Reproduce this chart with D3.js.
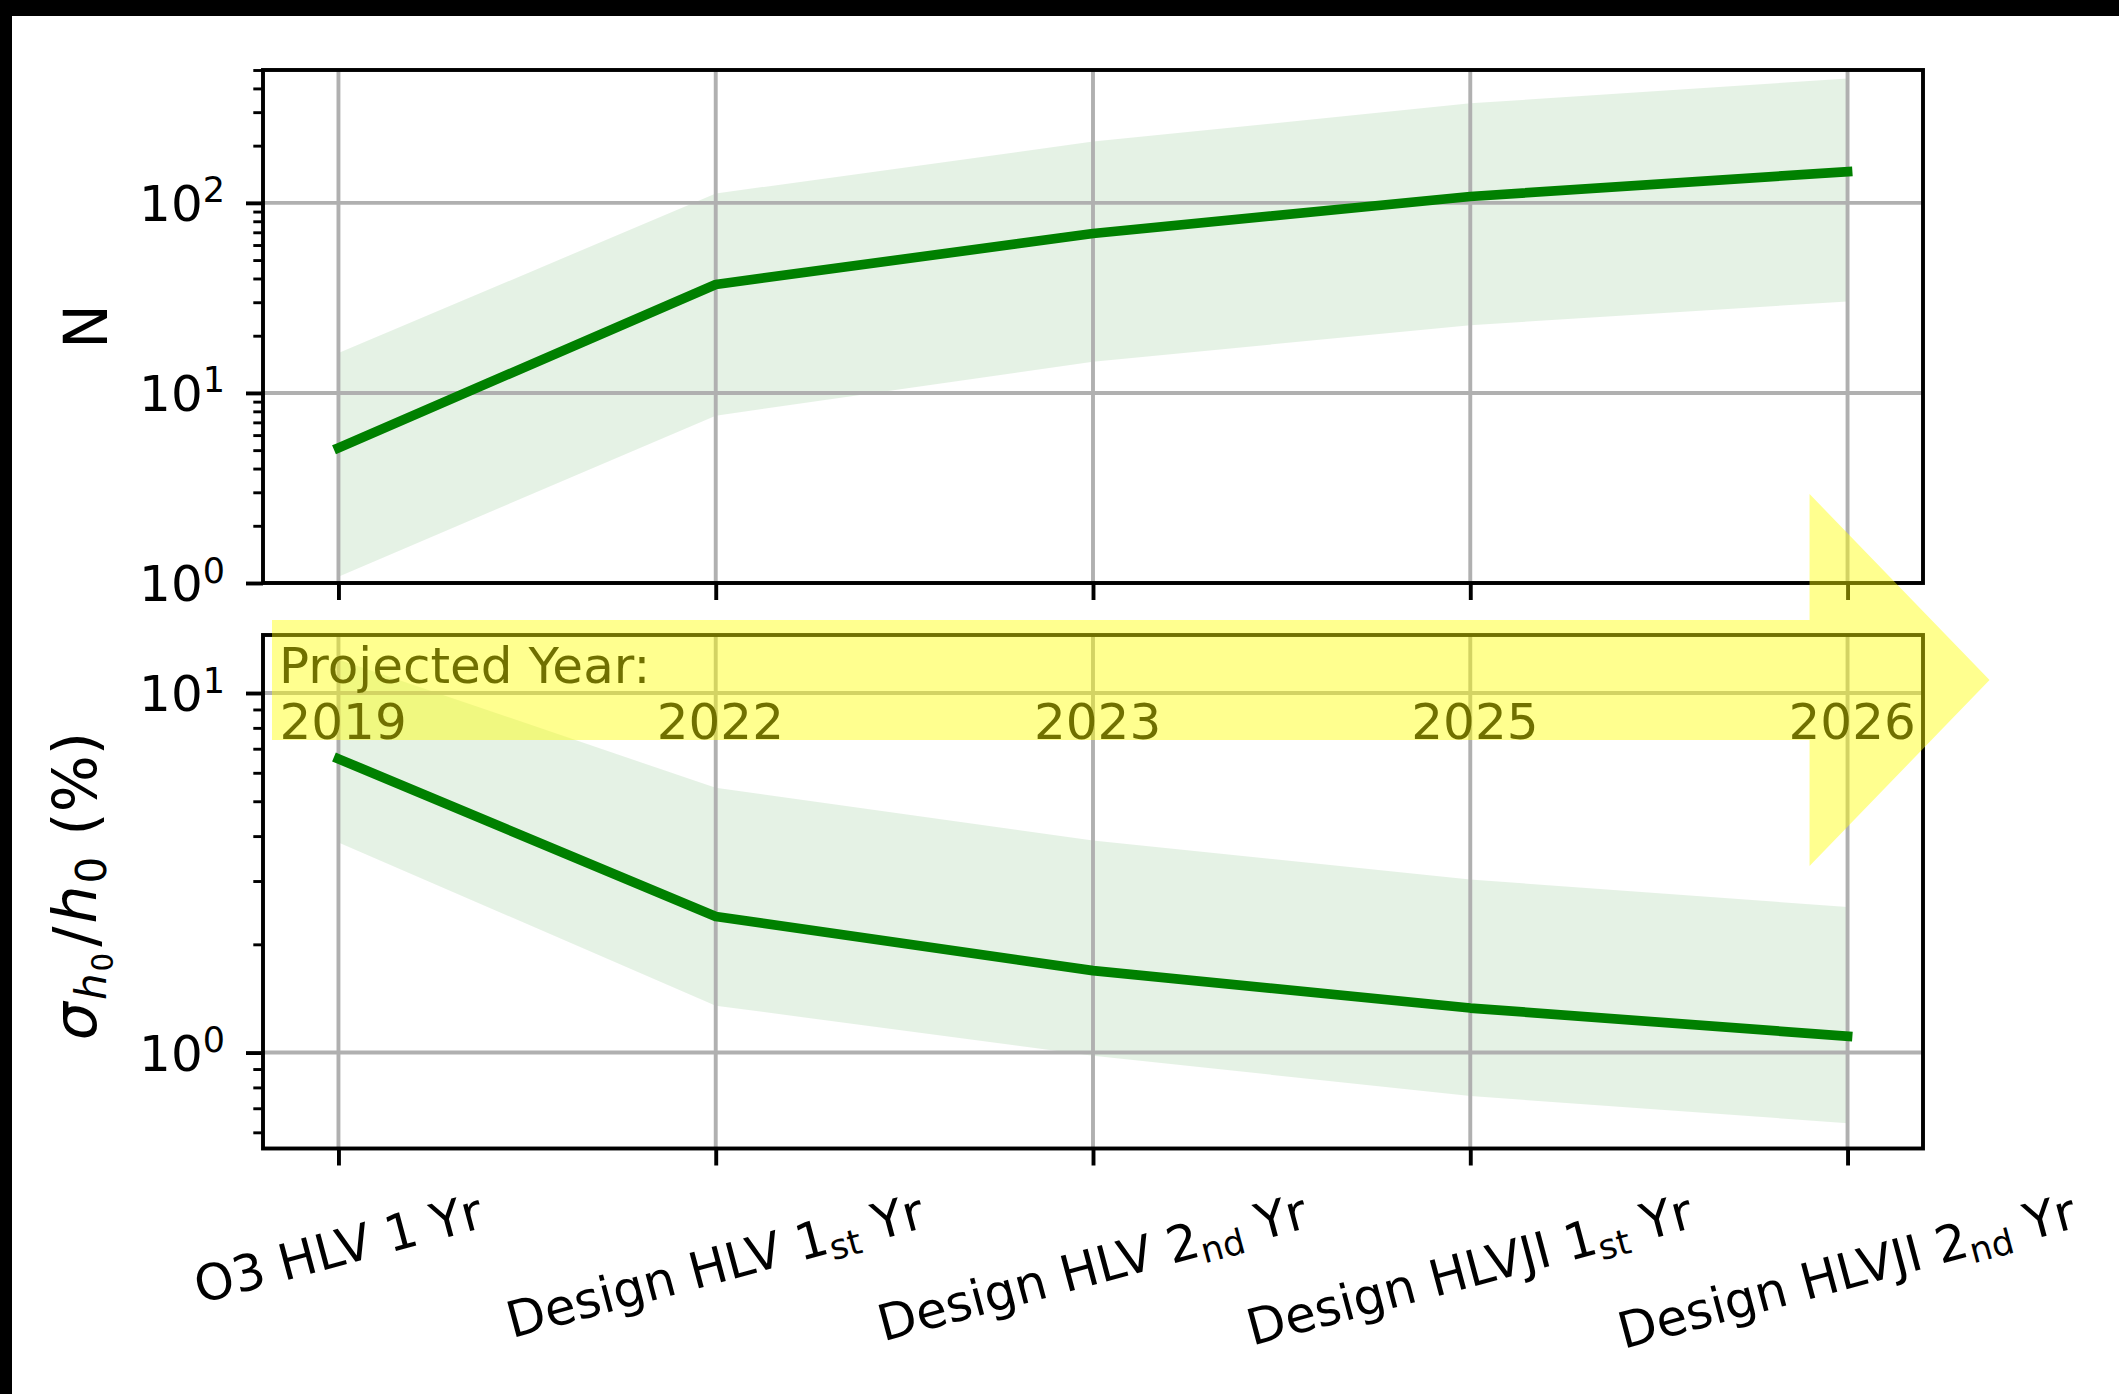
<!DOCTYPE html>
<html>
<head>
<meta charset="utf-8">
<script src="https://cdn.jsdelivr.net/npm/d3@7/dist/d3.min.js"></script>
<style>
  html, body { margin: 0; padding: 0; background: #000; }
  svg { display: block; }
  text { font-family: "DejaVu Sans", sans-serif; }
</style>
</head>
<body>
<svg id="chart" width="2119" height="1394"></svg>
<script>
// ---- data ----------------------------------------------------------------
// Observing scenarios: each label is [text, subscript, trailing text]
const scenarios = [
  ["O3 HLV 1 Yr", "", ""],
  ["Design HLV 1", "st", " Yr"],
  ["Design HLV 2", "nd", " Yr"],
  ["Design HLVJI 1", "st", " Yr"],
  ["Design HLVJI 2", "nd", " Yr"]
];
const projectedYears = ["2019", "2022", "2023", "2025", "2026"];

// Number of detections (median and band)
const detections     = [5.14, 37.2, 69, 108, 146];
const detectionsHigh = [16.2, 112, 210, 334, 451];
const detectionsLow  = [1.08, 7.59, 14.6, 22.7, 30.3];

// Fractional H0 uncertainty in percent (median and band)
const h0Error     = [6.56, 2.39, 1.69, 1.33, 1.11];
const h0ErrorHigh = [12.4, 5.45, 3.89, 3.03, 2.54];
const h0ErrorLow  = [3.84, 1.35, 0.98, 0.757, 0.636];

// Axis ticks
const nMajorTicks  = [1, 10, 100];
const nMinorTicks  = [2, 3, 4, 5, 6, 7, 8, 9, 20, 30, 40, 50, 60, 70, 80, 90, 200, 300, 400, 500];
const h0MajorTicks = [1, 10];
const h0MinorTicks = [0.6, 0.7, 0.8, 0.9, 2, 3, 4, 5, 6, 7, 8, 9];

// ---- layout ----------------------------------------------------------------
const FONT = 50, LABEL_FONT = 60;
const left = 263, right = 1923;
const topPanel = { top: 70, bottom: 583 };
const botPanel = { top: 635, bottom: 1148.5 };
const GRID = "#b0b0b0", GREEN = "#008000";
const SPINE_W = 3.9, MAJOR_LEN = 17, MINOR_LEN = 9.7, PAD = 17;

const svg = d3.select("#chart");
svg.append("rect").attr("width", 2119).attr("height", 1394).attr("fill", "#000");
svg.append("rect").attr("x", 12).attr("y", 16).attr("width", 2119 - 12).attr("height", 1394 - 16).attr("fill", "#fff");

const idx = d3.range(scenarios.length);
const x = d3.scaleLinear().domain([-0.2, scenarios.length - 1 + 0.2]).range([left, right]);
const yN  = d3.scaleLog().domain([1, 500]).range([topPanel.bottom, topPanel.top]);
const yH0 = d3.scaleLog().domain([0.541, 14.5]).range([botPanel.bottom, botPanel.top]);

function drawPanel(y, panel, mid, lo, hi, majors, minors) {
  const g = svg.append("g");

  // uncertainty band
  g.append("path")
    .datum(idx)
    .attr("d", d3.area().x(i => x(i)).y0(i => y(lo[i])).y1(i => y(hi[i])))
    .attr("fill", GREEN).attr("fill-opacity", 0.1);

  // grid
  g.selectAll(".vgrid").data(idx).join("line")
    .attr("x1", i => x(i)).attr("x2", i => x(i))
    .attr("y1", panel.top).attr("y2", panel.bottom)
    .attr("stroke", GRID).attr("stroke-width", SPINE_W);
  g.selectAll(".hgrid").data(majors).join("line")
    .attr("x1", left).attr("x2", right)
    .attr("y1", d => y(d)).attr("y2", d => y(d))
    .attr("stroke", GRID).attr("stroke-width", SPINE_W);

  // y ticks
  const majorAxis = g.append("g").attr("transform", `translate(${left},0)`)
    .call(d3.axisLeft(y).tickValues(majors).tickSize(MAJOR_LEN).tickFormat(""));
  const minorAxis = g.append("g").attr("transform", `translate(${left},0)`)
    .call(d3.axisLeft(y).tickValues(minors).tickSize(MINOR_LEN).tickFormat(""));
  // x ticks
  const xAxis = g.append("g").attr("transform", `translate(0,${panel.bottom})`)
    .call(d3.axisBottom(x).tickValues(idx).tickSize(MAJOR_LEN).tickFormat(""));
  [majorAxis, xAxis].forEach(a => {
    a.select(".domain").remove();
    a.selectAll(".tick line").attr("stroke", "#000").attr("stroke-width", SPINE_W);
  });
  minorAxis.select(".domain").remove();
  minorAxis.selectAll(".tick line").attr("stroke", "#000").attr("stroke-width", 2.9);

  // y tick labels as 10^n
  majors.forEach(v => {
    const e = Math.round(Math.log10(v));
    const t = g.append("text")
      .attr("x", left - MAJOR_LEN - PAD - 4)
      .attr("y", y(v) + 18)
      .attr("text-anchor", "end")
      .attr("font-size", FONT)
      .attr("fill", "#000");
    t.append("tspan").text("10");
    t.append("tspan").attr("font-size", FONT * 0.7).attr("dy", -18.5).text(e);
  });

  // median line
  g.append("path")
    .datum(idx)
    .attr("d", d3.line().x(i => x(i)).y(i => y(mid[i])))
    .attr("fill", "none").attr("stroke", GREEN).attr("stroke-width", 9.7)
    .attr("stroke-linecap", "square").attr("stroke-linejoin", "round");

  // frame
  g.append("rect")
    .attr("x", left).attr("y", panel.top)
    .attr("width", right - left).attr("height", panel.bottom - panel.top)
    .attr("fill", "none").attr("stroke", "#000").attr("stroke-width", SPINE_W);
  return g;
}

drawPanel(yN, topPanel, detections, detectionsLow, detectionsHigh, nMajorTicks, nMinorTicks);
drawPanel(yH0, botPanel, h0Error, h0ErrorLow, h0ErrorHigh, h0MajorTicks, h0MinorTicks);

// ---- y labels --------------------------------------------------------------
svg.append("text")
  .attr("transform", `translate(107,${(topPanel.top + topPanel.bottom) / 2}) rotate(-90)`)
  .attr("text-anchor", "middle").attr("font-size", LABEL_FONT).text("N");

const yl = svg.append("text")
  .attr("transform", `translate(96,886) rotate(-90)`)
  .attr("text-anchor", "middle").attr("font-size", LABEL_FONT);
yl.append("tspan").attr("font-style", "italic").text("σ");
yl.append("tspan").attr("font-style", "italic").attr("font-size", LABEL_FONT * 0.7).attr("dx", 2).attr("dy", 10).text("h");
yl.append("tspan").attr("font-size", LABEL_FONT * 0.49).attr("dx", 2).attr("dy", 7).text("0");
yl.append("tspan").attr("dx", 6).attr("dy", -17).text("/");
yl.append("tspan").attr("font-style", "italic").attr("dx", 3).text("h");
yl.append("tspan").attr("font-size", LABEL_FONT * 0.7).attr("dx", 2).attr("dy", 10).text("0");
yl.append("tspan").attr("dx", 2).attr("dy", -10).text("\u00a0(%)");

// ---- x tick labels (rotated) ------------------------------------------------
const angle = 15, rad = angle * Math.PI / 180;
const labelTop = botPanel.bottom + MAJOR_LEN + PAD;
scenarios.forEach((parts, i) => {
  const g = svg.append("g");
  const t = g.append("text").attr("font-size", FONT).attr("fill", "#000");
  t.append("tspan").text(parts[0]);
  if (parts[1]) {
    t.append("tspan").attr("font-size", FONT * 0.7).attr("dy", 8).text(parts[1]);
    t.append("tspan").attr("dy", -8).text(parts[2].replace(" ", "\u00a0"));
  }
  const bb = t.node().getBBox();
  const hr = bb.width * Math.sin(rad) + bb.height * Math.cos(rad);
  g.attr("transform",
    `translate(${x(i)},${labelTop + hr / 2}) rotate(${-angle}) translate(${-(bb.x + bb.width / 2)},${-(bb.y + bb.height / 2)})`);
});

// ---- projected-year banner ---------------------------------------------------
const banner = svg.append("g");
banner.append("text").attr("x", 279).attr("y", 683).attr("font-size", FONT).text("Projected Year:");
banner.selectAll(".yr").data(projectedYears).join("text")
  .attr("x", (d, i) => x(i) - 59).attr("y", 738.5)
  .attr("font-size", FONT).text(d => d);

// big translucent arrow pointing forward in time
const arrowY = 680, shaftHalf = 60, headHalf = 186;
const tailX = left + 9, headBase = x(scenarios.length - 1) - 38, tipX = x(scenarios.length - 1) + 142;
svg.append("path")
  .attr("d", d3.line()([
    [tailX, arrowY - shaftHalf], [headBase, arrowY - shaftHalf], [headBase, arrowY - headHalf],
    [tipX, arrowY], [headBase, arrowY + headHalf], [headBase, arrowY + shaftHalf],
    [tailX, arrowY + shaftHalf]
  ]) + "Z")
  .attr("fill", "#ffff00").attr("fill-opacity", 0.44);
</script>
</body>
</html>
